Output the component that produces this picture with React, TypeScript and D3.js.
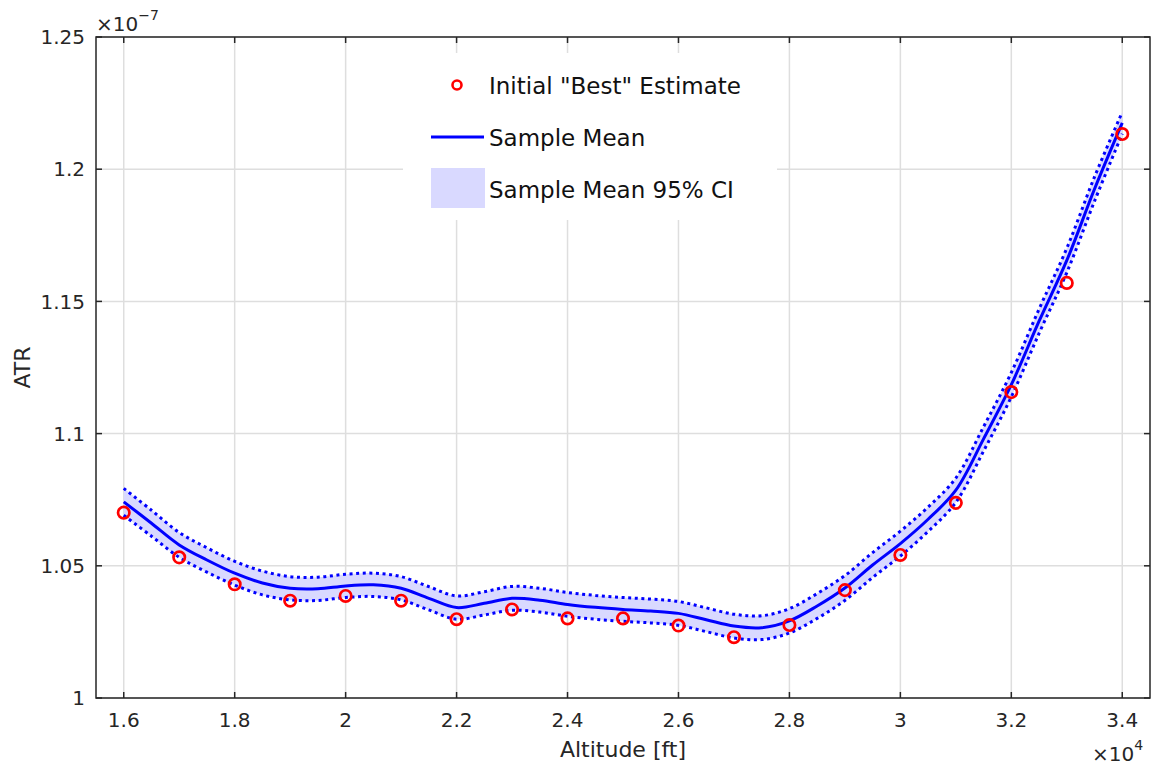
import React, { useRef, useEffect } from 'react';
import * as d3 from 'd3';

// Initial "best" estimate, one point per 1000 ft
const estimateAltitude = [16000, 17000, 18000, 19000, 20000, 21000, 22000, 23000, 24000, 25000,
    26000, 27000, 28000, 29000, 30000, 31000, 32000, 33000, 34000];
const estimateAtr = [1.0701, 1.0532, 1.0430, 1.0368, 1.0386, 1.0368, 1.0298, 1.0335, 1.0301, 1.0301,
    1.0274, 1.0230, 1.0276, 1.0408, 1.0541, 1.0738, 1.1157, 1.1570, 1.2133];

// Sample mean and its 95% CI, read every 500 ft
const sampleAltitude = [16000, 16500, 17000, 17500, 18000, 18500, 19000, 19500, 20000, 20500,
    21000, 21500, 22000, 22500, 23000, 23500, 24000, 24500, 25000, 25500,
    26000, 26500, 27000, 27500, 28000, 28500, 29000, 29500, 30000, 30500,
    31000, 31500, 32000, 32500, 33000, 33500, 34000];
const sampleMean = [1.0742, 1.0661, 1.0579, 1.0522, 1.0472, 1.0435, 1.0415, 1.0413, 1.0424, 1.0428,
    1.0415, 1.0377, 1.0342, 1.0358, 1.0377, 1.0370, 1.0354, 1.0343, 1.0335, 1.0329,
    1.0320, 1.0296, 1.0272, 1.0266, 1.0292, 1.0348, 1.0416, 1.0503, 1.0584, 1.0676,
    1.0786, 1.0980, 1.1185, 1.1425, 1.1655, 1.1925, 1.2175];
const ciUpper = [1.0793, 1.0710, 1.0626, 1.0568, 1.0517, 1.0480, 1.0459, 1.0457, 1.0468, 1.0472,
    1.0459, 1.0421, 1.0386, 1.0402, 1.0422, 1.0415, 1.0399, 1.0388, 1.0380, 1.0374,
    1.0365, 1.0341, 1.0317, 1.0311, 1.0338, 1.0395, 1.0463, 1.0550, 1.0631, 1.0722,
    1.0832, 1.1026, 1.1231, 1.1471, 1.1701, 1.1971, 1.2216];
const ciLower = [1.0691, 1.0612, 1.0532, 1.0476, 1.0427, 1.0390, 1.0371, 1.0369, 1.0380, 1.0384,
    1.0371, 1.0333, 1.0298, 1.0314, 1.0332, 1.0325, 1.0309, 1.0298, 1.0290, 1.0284,
    1.0275, 1.0251, 1.0227, 1.0221, 1.0246, 1.0301, 1.0369, 1.0456, 1.0537, 1.0630,
    1.0740, 1.0934, 1.1139, 1.1379, 1.1609, 1.1879, 1.2134];

// Axis ticks (x in ft, y in units of 1e-7)
const xTicks = [16000, 18000, 20000, 22000, 24000, 26000, 28000, 30000, 32000, 34000];
const yTicks = [1, 1.05, 1.1, 1.15, 1.2, 1.25];

const legendLabels = ['Initial "Best" Estimate', 'Sample Mean', 'Sample Mean 95% CI'];

const FONT = '"DejaVu Sans", sans-serif';
const INK = '#262626';

const App = () => {
    const chartRef = useRef<SVGSVGElement | null>(null);

    useEffect(() => {
        if (!chartRef.current) return;
        const svg = d3.select(chartRef.current);
        svg.selectAll('*').remove();

        // Axes box in page pixels
        const left = 96, right = 1150, top = 37, bottom = 698;

        const x = d3.scaleLinear().domain([15500, 34500]).range([left, right]);
        const y = d3.scaleLinear().domain([1, 1.25]).range([bottom, top]);

        // Grid
        const grid = svg.append('g').attr('stroke', '#dedede').attr('stroke-width', 1.5);
        grid.selectAll('line.gx')
            .data(xTicks)
            .join('line')
            .attr('class', 'gx')
            .attr('x1', d => x(d)).attr('x2', d => x(d))
            .attr('y1', top).attr('y2', bottom);
        grid.selectAll('line.gy')
            .data(yTicks)
            .join('line')
            .attr('class', 'gy')
            .attr('x1', left).attr('x2', right)
            .attr('y1', d => y(d)).attr('y2', d => y(d));

        const idx = sampleAltitude.map((_, i) => i);

        // CI band
        const area = d3.area<number>()
            .x(i => x(sampleAltitude[i]))
            .y0(i => y(ciLower[i]))
            .y1(i => y(ciUpper[i]))
            .curve(d3.curveCatmullRom);
        svg.append('path')
            .datum(idx)
            .attr('fill', '#d9d9ff')
            .attr('d', area);

        // CI bounds (dotted)
        [ciUpper, ciLower].forEach(bound => {
            const line = d3.line<number>()
                .x(i => x(sampleAltitude[i]))
                .y(i => y(bound[i]))
                .curve(d3.curveCatmullRom);
            svg.append('path')
                .datum(idx)
                .attr('fill', 'none')
                .attr('stroke', '#0000ff')
                .attr('stroke-width', 3)
                .attr('stroke-dasharray', '3 3.6')
                .attr('d', line);
        });

        // Sample mean
        const meanLine = d3.line<number>()
            .x(i => x(sampleAltitude[i]))
            .y(i => y(sampleMean[i]))
            .curve(d3.curveCatmullRom);
        svg.append('path')
            .datum(idx)
            .attr('fill', 'none')
            .attr('stroke', '#0000ff')
            .attr('stroke-width', 3)
            .attr('d', meanLine);

        // Initial estimate markers
        svg.selectAll('circle.est')
            .data(estimateAltitude)
            .join('circle')
            .attr('class', 'est')
            .attr('cx', d => x(d))
            .attr('cy', (d, i) => y(estimateAtr[i]))
            .attr('r', 5.7)
            .attr('fill', 'none')
            .attr('stroke', '#ff0000')
            .attr('stroke-width', 2.7);

        // Axes box and inward ticks on all four sides
        const axes = svg.append('g').attr('stroke', INK).attr('stroke-width', 1.5);
        axes.append('rect')
            .attr('x', left).attr('y', top)
            .attr('width', right - left).attr('height', bottom - top)
            .attr('fill', 'none');
        const tk = 6;
        xTicks.forEach(t => {
            axes.append('line').attr('x1', x(t)).attr('x2', x(t)).attr('y1', bottom).attr('y2', bottom - tk);
            axes.append('line').attr('x1', x(t)).attr('x2', x(t)).attr('y1', top).attr('y2', top + tk);
        });
        yTicks.forEach(t => {
            axes.append('line').attr('x1', left).attr('x2', left + tk).attr('y1', y(t)).attr('y2', y(t));
            axes.append('line').attr('x1', right).attr('x2', right - tk).attr('y1', y(t)).attr('y2', y(t));
        });

        // Tick labels
        const labels = svg.append('g')
            .attr('font-family', FONT)
            .attr('font-size', 20)
            .attr('fill', INK);
        labels.selectAll('text.xt')
            .data(xTicks)
            .join('text')
            .attr('class', 'xt')
            .attr('x', d => x(d))
            .attr('y', 727)
            .attr('text-anchor', 'middle')
            .text(d => d3.format('~g')(d / 10000));
        labels.selectAll('text.yt')
            .data(yTicks)
            .join('text')
            .attr('class', 'yt')
            .attr('x', left - 11)
            .attr('y', d => y(d))
            .attr('dy', '0.36em')
            .attr('text-anchor', 'end')
            .text(d => d3.format('~g')(d));

        // Exponent multipliers
        const expY = labels.append('text').attr('x', left).attr('y', 31);
        expY.append('tspan').text('×10');
        expY.append('tspan').attr('dy', -11).attr('font-size', 14).text('−7');
        const expX = labels.append('text').attr('x', 1092).attr('y', 761);
        expX.append('tspan').text('×10');
        expX.append('tspan').attr('dy', -11).attr('font-size', 14).text('4');

        // Axis titles
        svg.append('text')
            .attr('font-family', FONT)
            .attr('font-size', 22)
            .attr('fill', INK)
            .attr('x', (left + right) / 2)
            .attr('y', 757)
            .attr('text-anchor', 'middle')
            .text('Altitude [ft]');
        svg.append('text')
            .attr('font-family', FONT)
            .attr('font-size', 22)
            .attr('fill', INK)
            .attr('transform', `translate(30,${(top + bottom) / 2}) rotate(-90)`)
            .attr('text-anchor', 'middle')
            .text('ATR');

        // Legend (white background, no border)
        const legend = svg.append('g');
        legend.append('rect')
            .attr('x', 403).attr('y', 53)
            .attr('width', 374).attr('height', 167)
            .attr('fill', '#ffffff');
        legend.append('circle')
            .attr('cx', 457).attr('cy', 85).attr('r', 4.5)
            .attr('fill', 'none').attr('stroke', '#ff0000').attr('stroke-width', 2.6);
        legend.append('line')
            .attr('x1', 431).attr('x2', 484).attr('y1', 137).attr('y2', 137)
            .attr('stroke', '#0000ff').attr('stroke-width', 3);
        legend.append('rect')
            .attr('x', 431).attr('y', 168).attr('width', 54).attr('height', 40)
            .attr('fill', '#d9d9ff');
        legend.selectAll('text')
            .data(legendLabels)
            .join('text')
            .attr('font-family', FONT)
            .attr('font-size', 23)
            .attr('fill', '#111')
            .attr('x', 489)
            .attr('y', (d, i) => [94, 146, 198][i])
            .text(d => d);
    }, []);

    return (
        <div style={{ position: 'fixed', left: 0, top: 0, background: '#fff' }}>
            <svg ref={chartRef} width={1154} height={765}></svg>
        </div>
    );
};

export default App;
